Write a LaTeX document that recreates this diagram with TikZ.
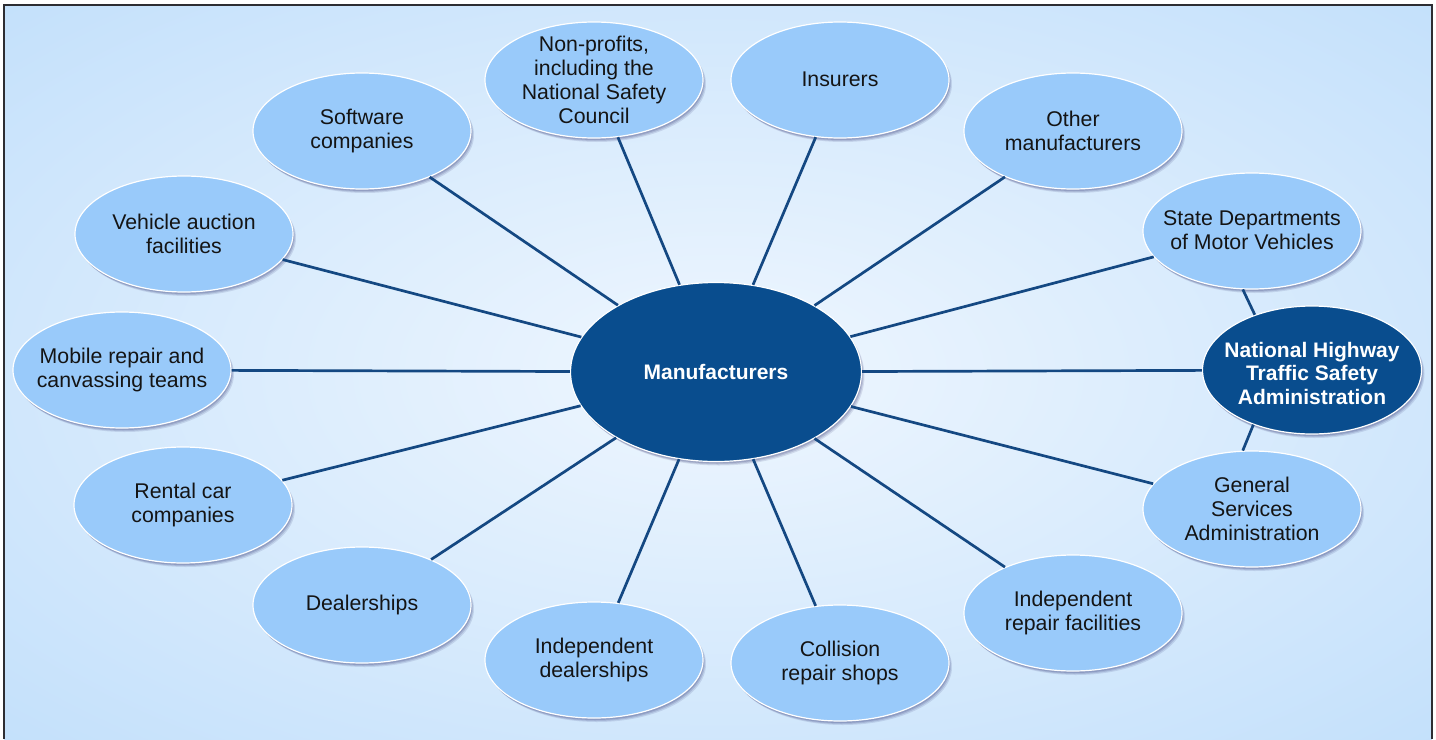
\documentclass[tikz,border=0pt]{standalone}
\usepackage{fontspec}
\setmainfont{Liberation Sans}
\usetikzlibrary{shapes.geometric,shadows}
\definecolor{bgin}{RGB}{234,244,254}
\definecolor{bgout}{RGB}{195,224,251}
\definecolor{nodefill}{RGB}{153,202,250}
\definecolor{darkfill}{RGB}{9,77,142}
\definecolor{linecol}{RGB}{20,72,130}
\definecolor{txtcol}{RGB}{20,20,20}
\definecolor{framecol}{RGB}{45,45,50}
\pgfdeclareradialshading{bgshade}{\pgfpoint{0bp}{0bp}}{color(0bp)=(bgin); color(4bp)=(bgin); color(36bp)=(bgout); color(80bp)=(bgout)}
\begin{document}
\begin{tikzpicture}[x=1pt,y=-1pt,
  ell/.style={ellipse, draw=white, line width=1.2pt, inner sep=0pt,
    drop shadow={shadow xshift=3pt, shadow yshift=-4pt, opacity=0.10, fill=black!70!blue},
    drop shadow={shadow xshift=2pt, shadow yshift=-3pt, opacity=0.12, fill=black!70!blue},
    drop shadow={shadow xshift=1pt, shadow yshift=-2pt, opacity=0.14, fill=black!70!blue}},
  outer/.style={ell, fill=nodefill, minimum width=218pt, minimum height=116pt},
  hub/.style={ell, fill=darkfill},
  txt/.style={align=center, text=txtcol, inner sep=0pt, yshift=0.5pt,
    font=\fontsize{21.3}{24}\selectfont},
  hubtxt/.style={align=center, text=white, inner sep=0pt,
    font=\fontsize{21}{23.5}\selectfont\bfseries},
  conn/.style={draw=linecol, line width=2.7pt}]
\fill[white] (0,0) rectangle (1436,739);
\shade[shading=bgshade] (4,5) rectangle (1432,739);
\draw[framecol, line width=1.8pt] (4,739) -- (4,5) -- (1432,5) -- (1432,739);
\useasboundingbox (0,0) rectangle (1436,739);

% hubs
\node[hub, minimum width=291pt, minimum height=179pt,
  label={[hubtxt]center:Manufacturers}] (m) at (716,372) {};
\node[hub, minimum width=219pt, minimum height=128pt,
  label={[hubtxt, yshift=-3pt]center:{National Highway\\Traffic Safety\\Administration}}] (nh) at (1312,370) {};

% outer nodes
\node[outer, label={[txt]center:{Non-profits,\\including the\\National Safety\\Council}}] (np) at (594,80) {};
\node[outer, label={[txt]center:Insurers}] (ins) at (840,80) {};
\node[outer, label={[txt]center:{Software\\companies}}] (sw) at (362,131) {};
\node[outer, label={[txt]center:{Other\\manufacturers}}] (om) at (1073,131) {};
\node[outer, label={[txt]center:{Vehicle auction\\facilities}}] (va) at (184,234) {};
\node[outer, label={[txt]center:{State Departments\\of Motor Vehicles}}] (st) at (1252,231) {};
\node[outer, label={[txt]center:{Mobile repair and\\canvassing teams}}] (mob) at (122,370) {};
\node[outer, label={[txt]center:{Rental car\\companies}}] (rc) at (183,505) {};
\node[outer, label={[txt]center:{General\\Services\\Administration}}] (gsa) at (1252,509) {};
\node[outer, label={[txt]center:Dealerships}] (dl) at (362,605) {};
\node[outer, label={[txt]center:{Independent\\repair facilities}}] (ir) at (1073,613) {};
\node[outer, label={[txt]center:{Independent\\dealerships}}] (id) at (594,660) {};
\node[outer, label={[txt]center:{Collision\\repair shops}}] (cr) at (840,663) {};

\foreach \t in {np,ins,sw,om,va,st,mob,rc,gsa,dl,ir,id,cr,nh}
  \draw[conn] (m) -- (\t);
\draw[conn] (st.261) -- (nh.136);
\draw[conn] (nh.223) -- (gsa.99);
\end{tikzpicture}
\end{document}
